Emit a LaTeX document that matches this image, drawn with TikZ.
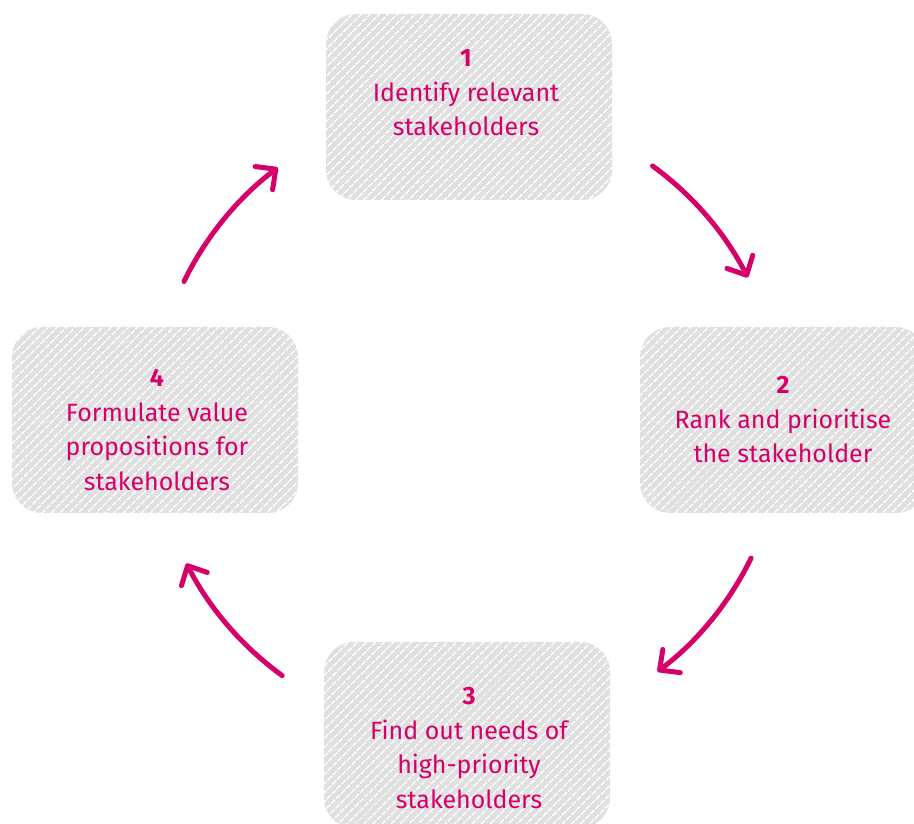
\documentclass[tikz,border=0pt]{standalone}
\usepackage{fontspec}
\setmainfont{Fira Sans}
\usetikzlibrary{arrows.meta,patterns.meta}
\definecolor{mag}{HTML}{D5006A}
\definecolor{boxgray}{HTML}{E0E0E0}
\tikzset{
  stepbox/.style={rounded corners=30pt, minimum width=286pt, minimum height=186pt,
    inner sep=0pt, preaction={fill=boxgray},
    pattern={Lines[angle=45,distance=6.4pt,line width=1.6pt]}, pattern color=white},
  lbl/.style={text=mag, align=center, font=\fontsize{25}{34.5}\selectfont, inner sep=0pt},
  flow/.style={draw=mag, line width=5pt, line cap=round,
    -{Straight Barb[length=15pt,width=29pt,line width=5pt, round]}}
}
\begin{document}
\begin{tikzpicture}[x=1pt,y=1pt]
\useasboundingbox (0,0) rectangle (914,824);
\node[stepbox] (b1) at (469,717) {};
\node[stepbox] (b2) at (783,404) {};
\node[stepbox] (b3) at (467,89) {};
\node[stepbox] (b4) at (155,404) {};
\node[lbl] (t1) at (466,731) {\textbf{1}\\Identify relevant\\stakeholders};
\node[lbl] (t2) at (783,404) {\textbf{2}\\Rank and prioritise\\the stakeholder};
\node[lbl] (t3) at (469,76) {\textbf{3}\\Find out needs of\\high-priority\\stakeholders};
\node[lbl] (t4) at (157,394) {\textbf{4}\\Formulate value\\propositions for\\stakeholders};
\coordinate (c) at (468,404);
\draw[flow] (c) ++(54:314pt) arc[start angle=54, end angle=27, radius=314pt];
\draw[flow] (c) ++(-26:315pt) arc[start angle=-26, end angle=-53, radius=315pt];
\draw[flow] (c) ++(-126:316pt) arc[start angle=-126, end angle=-153, radius=316pt];
\draw[flow] (c) ++(154:316pt) arc[start angle=154, end angle=127, radius=316pt];
\end{tikzpicture}
\end{document}
